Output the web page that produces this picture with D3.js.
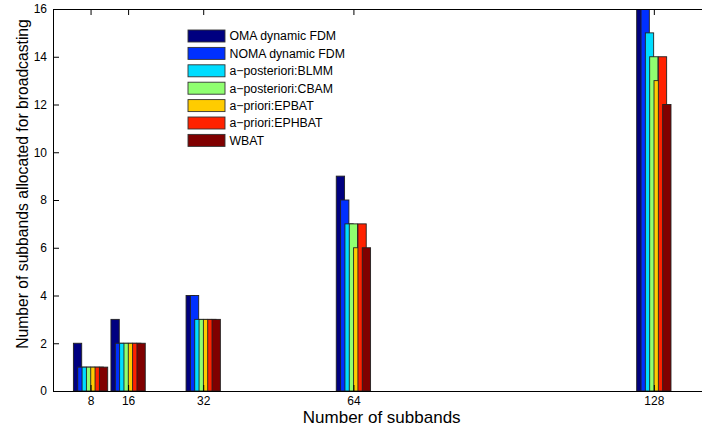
<!DOCTYPE html>
<html>
<head>
<meta charset="utf-8">
<script src="https://cdn.jsdelivr.net/npm/d3@7"></script>
<style>
  body { margin: 0; background: #fff; }
  svg { display: block; font-family: "Liberation Sans", Arial, sans-serif; }
</style>
</head>
<body>
<svg id="chart" width="702" height="432"></svg>
<script>
const categories = [8, 16, 32, 64, 128];
const seriesNames = ["OMA dynamic FDM", "NOMA dynamic FDM", "a\u2212posteriori:BLMM", "a\u2212posteriori:CBAM", "a\u2212priori:EPBAT", "a\u2212priori:EPHBAT", "WBAT"];
const omaValues    = [2, 3, 4, 9, 16];
const nomaValues   = [1, 2, 4, 8, 16];
const blmmValues   = [1, 2, 3, 7, 15];
const cbamValues   = [1, 2, 3, 7, 14];
const epbatValues  = [1, 2, 3, 6, 13];
const ephbatValues = [1, 2, 3, 7, 14];
const wbatValues   = [1, 2, 3, 6, 12];
const yTicks = [0, 2, 4, 6, 8, 10, 12, 14, 16];
const colors = ["#000080", "#0030FF", "#00DDFF", "#90FF70", "#FFCC00", "#FF2200", "#800000"];

const series = [omaValues, nomaValues, blmmValues, cbamValues, epbatValues, ephbatValues, wbatValues];

const svg = d3.select("#chart");
const mLeft = 53, mBottom = 391, mTop = 9;
const x = d3.scaleLinear().domain([0, 140]).range([mLeft, mLeft + 140 * 4.694]);
const y = d3.scaleLinear().domain([0, 16]).range([mBottom, mTop]);

const slot = 0.923, barW = 1.77;

svg.append("clipPath").attr("id", "clip")
  .append("rect").attr("x", mLeft).attr("y", mTop).attr("width", 702 - mLeft).attr("height", mBottom - mTop);

const plot = svg.append("g").attr("clip-path", "url(#clip)");
series.forEach((vals, si) => {
  plot.selectAll(null).data(categories.map((c, i) => ({c, v: vals[i]})))
    .enter().append("rect")
    .attr("x", d => x(d.c + (si - 3) * slot - barW / 2))
    .attr("width", d => x(barW) - x(0))
    .attr("y", d => y(d.v))
    .attr("height", d => y(0) - y(d.v))
    .attr("fill", colors[si])
    .attr("stroke", "#222")
    .attr("stroke-width", 0.9);
});

// axes
const xAxis = d3.axisBottom(x).tickValues(categories).tickSize(-6).tickPadding(5).tickFormat(d3.format("d"));
const gx = svg.append("g").attr("transform", `translate(0,${mBottom})`).call(xAxis);
const xAxisTop = d3.axisTop(x).tickValues(categories).tickSize(-6).tickFormat("");
const gxt = svg.append("g").attr("transform", `translate(0,${mTop})`).call(xAxisTop);
const yAxis = d3.axisLeft(y).tickValues(yTicks).tickSize(-6).tickPadding(6).tickFormat(d3.format("d"));
const gy = svg.append("g").attr("transform", `translate(${mLeft},0)`).call(yAxis);

[gx, gxt, gy].forEach(g => {
  g.select(".domain").attr("stroke", "#000").attr("stroke-width", 1);
  g.selectAll(".tick line").attr("stroke", "#000").attr("stroke-width", 1);
  g.selectAll(".tick text").attr("fill", "#000").style("font-size", "12px").style("font-family", "Liberation Sans, Arial, sans-serif");
});
gx.select(".domain").attr("d", `M${mLeft},0.5H702`);
gxt.select(".domain").attr("d", `M${mLeft},0.5H702`);
gy.select(".domain").attr("d", `M0.5,${mBottom}V${mTop}`);

// labels
svg.append("text").attr("x", 381.7).attr("y", 423).attr("text-anchor", "middle")
  .style("font-size", "17px").text("Number of subbands");
svg.append("text").attr("transform", "translate(28,184) rotate(-90)").attr("text-anchor", "middle")
  .style("font-size", "15.7px").text("Number of subbands allocated for broadcasting");

// legend
const lg = svg.append("g");
seriesNames.forEach((name, i) => {
  const cy = 36 + i * 17.4;
  lg.append("rect").attr("x", 188).attr("y", cy - 6).attr("width", 37).attr("height", 12)
    .attr("fill", colors[i]).attr("stroke", "#333").attr("stroke-width", 0.9);
  lg.append("text").attr("x", 229.5).attr("y", cy + 4.3).style("font-size", "12.3px").text(name);
});
</script>
</body>
</html>
